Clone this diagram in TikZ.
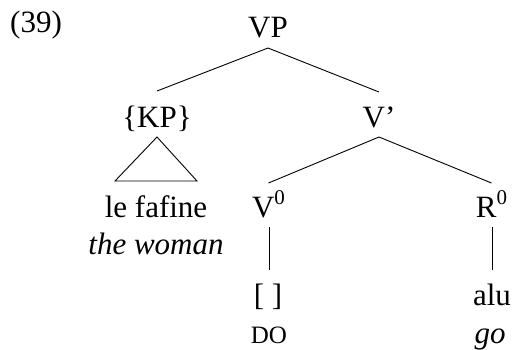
\documentclass[tikz,border=0pt]{standalone}
\usepackage{fontspec}
\setmainfont{Liberation Serif}
\usetikzlibrary{calc}
\newcommand{\zsup}{\raisebox{0.40em}{\fontsize{21}{21}\selectfont 0}}
\begin{document}
\begin{tikzpicture}[x=1pt,y=-1pt,
  lab/.style={inner sep=0pt, anchor=base, font=\fontsize{31}{37}\selectfont},
  small/.style={inner sep=0pt, anchor=base, font=\fontsize{25}{30}\selectfont},
  ln/.style={line width=0.9pt, black}]
\useasboundingbox (0,0) rectangle (512,349);
\node[lab, anchor=base west] (ex) at (10,32) {(39)};
\node[lab] (vp) at (268,37) {VP};
\node[lab] (kp) at (157,127) {\{KP\}};
\node[lab] (vbar) at (379,127) {V’};
\node[lab] (lf) at (156,217) {le fafine};
\node[lab] (tw) at (156,254) {\itshape the woman};
\node[lab] (v0) at (268.5,217) {V\zsup};
\node[lab] (r0) at (491.5,217) {R\zsup};
\node[lab] (emp) at (268,305) {[ ]};
\node[lab] (alu) at (492,305) {alu};
\node[small] (do) at (269,343) {DO};
\node[lab] (go) at (490,343) {\itshape go};
% VP branches
\draw[ln] ($(vp.base)+(0,11)$) -- ($(kp.base)+(0,-36)$);
\draw[ln] ($(vp.base)+(0,11)$) -- ($(vbar.base)+(0,-35)$);
% KP triangle
\draw[ln] ($(kp.base)+(0,10)$) -- ($(lf.base)+(-41,-36)$) -- ($(lf.base)+(41,-36)$) -- cycle;
% V' branches
\draw[ln] ($(vbar.base)+(0,10)$) -- ($(v0.base)+(0,-34)$);
\draw[ln] ($(vbar.base)+(0,10)$) -- ($(r0.base)+(0,-34)$);
% vertical lines
\draw[ln] ($(v0.base)+(0.5,10)$) -- ($(emp.base)+(1,-35)$);
\draw[ln] ($(r0.base)+(0.5,10)$) -- ($(alu.base)+(0,-35)$);
\end{tikzpicture}
\end{document}
